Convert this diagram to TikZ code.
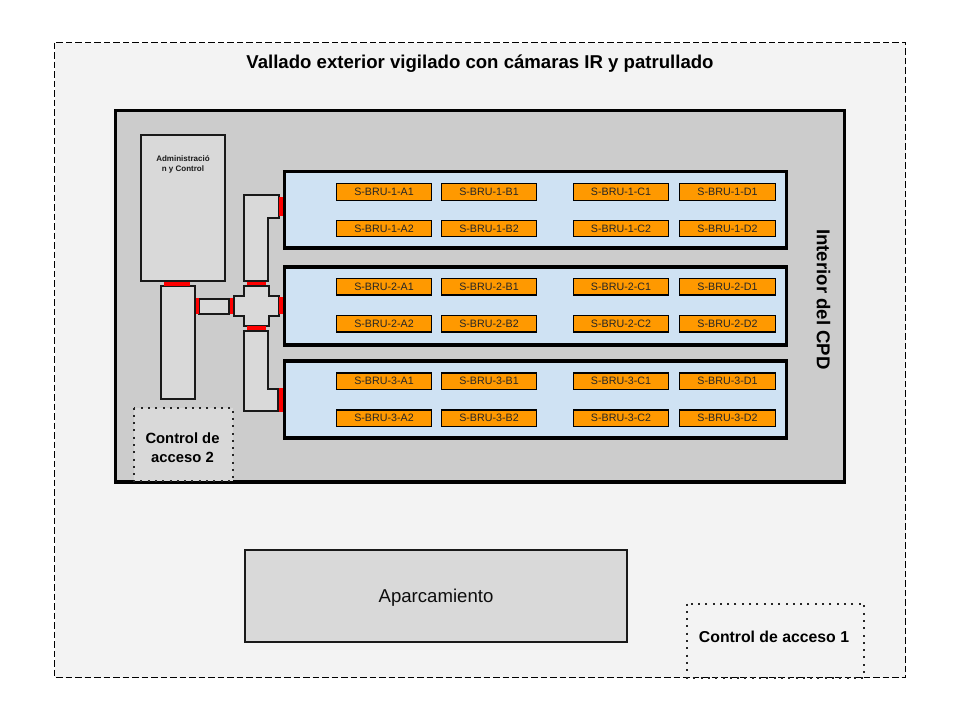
\documentclass[tikz,border=0pt]{standalone}
\usepackage{fontspec}
\setmainfont{Liberation Sans}
\tikzset{
 outerzone/.style={draw=black,fill=yellowlessgray,line width=1.2pt,dash pattern=on 6.5pt off 3pt},
 hall/.style={draw=black,fill=hallgray,line width=3.6pt},
 room/.style={draw=black!90,fill=roomgray,line width=2pt},
 dotzone/.style={draw=black!85,line width=2pt,dash pattern=on 2pt off 5.3pt},
 bluehall/.style={draw=black,fill=roomblue,line width=3.8pt},
 rack/.style={draw=black,fill=rackorange,line width=1.3pt},
 redbar/.style={draw=none,fill=red},
 racktext/.style={font=\fontsize{10.7}{12}\selectfont,text=black!85},
 boldtext/.style={font=\bfseries,align=center,text=black},
}
\definecolor{yellowlessgray}{HTML}{F3F3F3}
\definecolor{hallgray}{HTML}{CCCCCC}
\definecolor{roomgray}{HTML}{D9D9D9}
\definecolor{roomblue}{HTML}{CFE2F3}
\definecolor{rackorange}{HTML}{FF9900}
\newcommand{\rackrow}[4]{% hall, row, y1, y2
  \draw[rack] (336.5,#3) rectangle (431.5,#4) node[midway,racktext] (r#1A#2) {S-BRU-#1-A#2};
  \draw[rack] (441.5,#3) rectangle (536.5,#4) node[midway,racktext] (r#1B#2) {S-BRU-#1-B#2};
  \draw[rack] (573.5,#3) rectangle (668.5,#4) node[midway,racktext] (r#1C#2) {S-BRU-#1-C#2};
  \draw[rack] (679.5,#3) rectangle (775.5,#4) node[midway,racktext] (r#1D#2) {S-BRU-#1-D#2};
}
\begin{document}
\begin{tikzpicture}[x=1pt,y=-1pt]
\useasboundingbox (0,0) rectangle (960,720);
\fill[white] (0,0) rectangle (960,720);
\draw[outerzone] (54.5,42.5) rectangle (905.5,677.5);
\node[boldtext,font=\bfseries\fontsize{18.6}{22}\selectfont] (title) at (480,63.5) {Vallado exterior vigilado con cámaras IR y patrullado};
% interior
\draw[hall] (115.5,110.5) rectangle (844.5,482);
\node[boldtext,font=\bfseries\fontsize{18.6}{22}\selectfont,rotate=-90] (interior) at (823.5,299.5) {Interior del CPD};
% blue halls
\draw[bluehall] (284.5,171.5) rectangle (786.5,248) node[midway] (h1) {};
\draw[bluehall] (284.5,267) rectangle (786.5,345) node[midway] (h2) {};
\draw[bluehall] (284.5,361) rectangle (786.5,438) node[midway] (h3) {};
\rackrow{1}{1}{183.5}{200.5}
\rackrow{1}{2}{220.5}{236.5}
\rackrow{2}{1}{278.5}{295}
\rackrow{2}{2}{315.5}{332}
\rackrow{3}{1}{373}{389.5}
\rackrow{3}{2}{410}{426.5}
% admin
\draw[room] (141,135) rectangle (224.5,280.5);
\node[boldtext,font=\bfseries\fontsize{8}{9.8}\selectfont,text=black!90] (admin) at (183,164) {Administració\\n y Control};
\draw[room] (160.5,285.5) rectangle (194.5,398.5) node[midway] (corr) {};
\fill[redbar] (163.5,281.5) rectangle (189.5,285.5);
\draw[room] (199,298.5) rectangle (228.5,313.5) node[midway] (link) {};
\fill[redbar] (196,298) rectangle (198.5,313.5);
\fill[redbar] (229.5,298) rectangle (232.5,313.5);
% cross
\draw[room] (243.5,285.5) -- (268.5,285.5) -- (268.5,295.5) -- (278.5,295.5) -- (278.5,315.5) -- (268.5,315.5) -- (268.5,325.5) -- (243.5,325.5) -- (243.5,315.5) -- (233.5,315.5) -- (233.5,295.5) -- (243.5,295.5) -- cycle;
% upper L
\draw[room] (243.5,280.5) -- (243.5,194.5) -- (278.5,194.5) -- (278.5,217.5) -- (267.5,217.5) -- (267.5,280.5) -- cycle;
% lower L
\draw[room] (243.5,330.5) -- (267.5,330.5) -- (267.5,388.5) -- (277.5,388.5) -- (277.5,410.5) -- (243.5,410.5) -- cycle;
% red doors
\fill[redbar] (246.5,282) rectangle (265.5,285);
\fill[redbar] (246.5,326) rectangle (265.5,329.5);
\fill[redbar] (278.5,196.5) rectangle (282.5,216);
\fill[redbar] (278.5,296.5) rectangle (282.5,313.5);
\fill[redbar] (278.5,387.5) rectangle (282.5,412);
% control 2
\draw[dotzone,fill=roomgray] (133.5,407.5) rectangle (232.5,481) node[midway,yshift=-3pt,xshift=-0.5pt,boldtext,font=\bfseries\fontsize{14.8}{19}\selectfont] (c2) {Control de\\acceso 2};
% parking
\draw[room] (245,550) rectangle (627,642) node[midway,yshift=-1.5pt,font=\fontsize{18.6}{22}\selectfont,text=black!95] (park) {Aparcamiento};
% control 1
\draw[dotzone] (687,603.5) rectangle (864,677.5) node[midway,yshift=3.5pt,xshift=-1.5pt,boldtext,font=\bfseries\fontsize{15.8}{18}\selectfont] (c1) {Control de acceso 1};
\end{tikzpicture}
\end{document}
